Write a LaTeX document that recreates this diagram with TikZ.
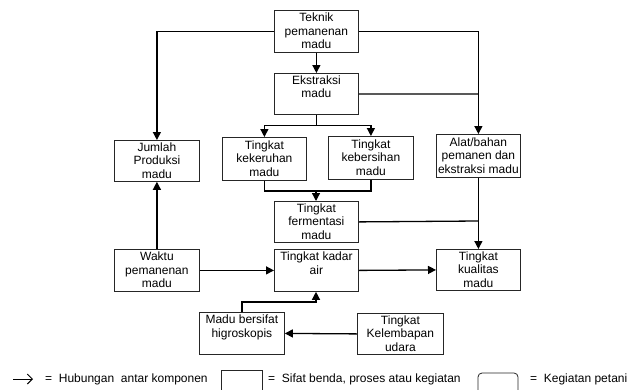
\documentclass[tikz,border=0pt]{standalone}
\usepackage{fontspec}
\setmainfont{Liberation Sans}
\usetikzlibrary{arrows.meta}
\newcommand{\boxtext}[1]{\parbox[t][37pt][t]{83pt}{\centering #1}}
\begin{document}
\begin{tikzpicture}[x=1pt,y=-1pt,
  font=\fontsize{12}{13.5}\selectfont,
  box/.style={draw=black!85, line width=0.8pt, inner xsep=0.5pt, inner ysep=2pt, anchor=north west,
    minimum width=84pt, minimum height=42pt},
  ln/.style={line width=1.3pt, black},
  arr/.style={ln, -{Triangle[length=8pt,width=8pt]}},
  legarrow/.style={line width=1pt, -{Straight Barb[length=5pt,width=10pt]}},
  legtext/.style={anchor=west, inner sep=0pt}
]
\useasboundingbox (0,0) rectangle (640,389);
\clip (0,0) rectangle (640,389);
% boxes
\node[box] (tek) at (274,10) {\boxtext{Teknik\\pemanenan\\madu}};
\node[box, minimum height=41pt] (eks) at (274,73) {\boxtext{Ekstraksi\\madu}};
\node[box, minimum height=43pt] (kek) at (222,137) {\boxtext{Tingkat\\kekeruhan\\madu}};
\node[box, minimum width=85pt, minimum height=43pt] (keb) at (328,136) {\boxtext{Tingkat\\kebersihan\\madu}};
\node[box, minimum height=41pt] (fer) at (274,201) {\boxtext{Tingkat\\fermentasi\\madu}};
\node[box] (kad) at (274,249) {\boxtext{Tingkat kadar\\air}};
\node[box, minimum width=85pt, minimum height=41pt] (jum) at (114,140) {\boxtext{Jumlah\\Produksi\\madu}};
\node[box, minimum width=85pt] (wak) at (114,249) {\boxtext{Waktu\\pemanenan\\madu}};
\node[box, minimum height=43pt] (ala) at (436,134) {\boxtext{Alat/bahan\\pemanen dan\\ekstraksi madu}};
\node[box, minimum height=41pt] (kua) at (436,249) {\boxtext{Tingkat\\kualitas\\madu}};
\node[box, minimum width=85pt] (hig) at (199,312) {\boxtext{Madu bersifat\\higroskopis}};
\node[box, minimum width=86pt, minimum height=41pt] (kel) at (357,313) {\boxtext{Tingkat\\Kelembapan\\udara}};
% junction coordinates
\coordinate (j1) at (316,191);
\coordinate (j2) at (316,302);
\coordinate (j3) at (478,94);
\coordinate (j4) at (478,221);
% connectors
\draw[arr] (tek.south) -- (eks.south |- eks.north);
\draw[arr] (eks.south) -- ++(0,11) -| (kek.north);
\draw[arr] (eks.south) -- ++(0,11) -| (keb.north);
\draw[ln] (kek.south) |- (j1) -| (keb.south);
\draw[arr] (j1) -- (j1 |- fer.north);
\draw[arr] (tek.west) -| (jum.north);
\draw[arr] (wak.north) -- (jum.south);
\draw[arr] (wak.east) -- (kad.west);
\draw[arr] (tek.east) -| (ala.north);
\draw[ln] (eks.east) -- (j3);
\draw[arr] (ala.south) -- (kua.north);
\draw[ln] (fer.east) -- (j4);
\draw[arr] (kad.east) -- (kua.west);
\draw[arr] (hig.north) |- (j2) -- (j2 |- kad.south);
\draw[arr] (kel.west) -- (hig.east);
% legend
\coordinate (la) at (13,379);
\coordinate (lb) at (33,379);
\draw[legarrow] (la) -- (lb);
\node[legtext] (t1) at (45,379) {=\ \ Hubungan\ \ antar komponen};
\draw[draw=black!85, line width=0.8pt] (221,370) rectangle (262,400);
\node[legtext] (t2) at (268,379) {=\ \ Sifat benda, proses atau kegiatan};
\draw[draw=black!85, line width=0.8pt, rounded corners=4pt] (478,373) rectangle (518,400);
\node[legtext] (t3) at (530,379) {=\ \ Kegiatan petani};
\end{tikzpicture}
\end{document}
